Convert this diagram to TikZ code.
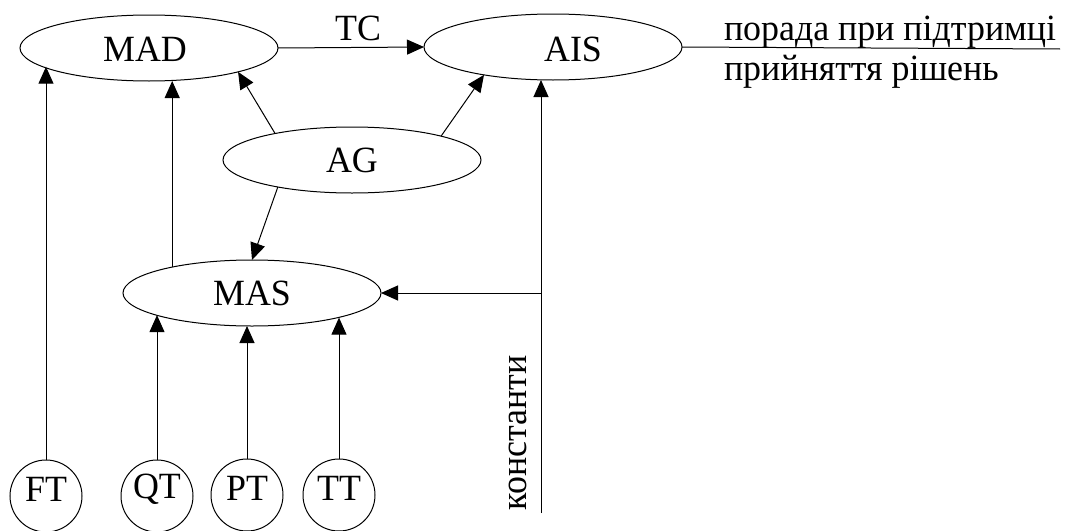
\documentclass[tikz,border=0pt]{standalone}
\usepackage{fontspec}
\setmainfont{Liberation Serif}[FakeStretch=0.97]
\usetikzlibrary{arrows.meta,shapes.geometric}
\begin{document}
\begin{tikzpicture}[x=0.5pt,y=-0.5pt,
  font=\fontsize{18.5pt}{22pt}\selectfont,
  line width=0.5pt,
  ell/.style={draw,ellipse,inner sep=0pt,outer sep=0pt,minimum width=129pt,minimum height=33pt},
  circ/.style={draw,circle,inner sep=0pt,outer sep=0pt,minimum size=36pt},
  lbl/.style={inner sep=0pt,outer sep=0pt},
  arr/.style={-{Triangle[length=8.5pt,width=7.5pt]}}]
\useasboundingbox (0,0) rectangle (1065,530);
% ellipses
\node[ell] (MAD) at (149,48) {};
\node[lbl] (MADt) at (145,49) {MAD};
\node[ell] (AIS) at (553,47) {};
\node[lbl] (AISt) at (573,49) {AIS};
\node[ell] (AG) at (352,160) {AG};
\node[ell] (MAS) at (252,293) {MAS};
% circles
\node[circ] (FT) at (46,496) {};
\node[lbl] (FTt) at (46,489) {FT};
\node[circ] (QT) at (157,496) {};
\node[lbl] (QTt) at (157,489) {QT};
\node[circ] (PT) at (247,495) {};
\node[lbl] (PTt) at (247,488) {PT};
\node[circ] (TT) at (339,495) {};
\node[lbl] (TTt) at (339,488) {TT};
% labels
\node[lbl] (TC) at (358,28) {TC};
\node[lbl,rotate=90] (konst) at (518,433) {константи};
\node[lbl,anchor=base west] (adv1) at (724,40) {порада при підтримці};
\node[lbl,anchor=base west] (adv2) at (724,80) {прийняття рішень};
% coordinates
\coordinate (K) at (541,513);
\coordinate (R) at (1060,49);
% connectors
\draw[arr] (MAD.east) -- (AIS.west);
\draw (AIS.east) -- (R);
\draw[arr] (FT.north) -- (FT.north |- MAD.190);
\draw[arr] (MAS.162) -- (MAS.162 |- MAD.south);
\draw[arr] (AG.161) -- (MAD.-15);
\draw[arr] (AG.15.5) -- (AIS.202);
\draw[arr] (AG.200) -- (MAS.north);
\draw[arr] (QT.north) -- (QT.north |- MAS.193);
\draw[arr] (PT.north) -- (PT.north |- MAS.south);
\draw[arr] (TT.north) -- (TT.north |- MAS.344);
\draw[arr] (K) -- (K |- AIS.south);
\draw[arr] (K |- MAS.east) -- (MAS.east);
\end{tikzpicture}
\end{document}
